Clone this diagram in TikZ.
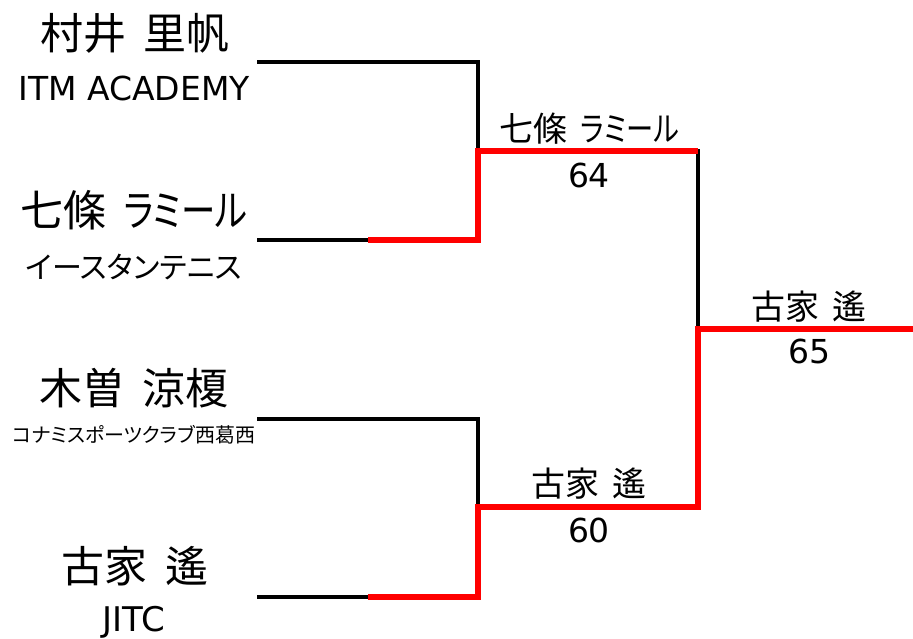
\documentclass[tikz,border=0pt]{standalone}
\usepackage{fontspec}
\setmainfont{DejaVu Sans}
\newfontfamily\jp[RawFeature=+palt,WordSpace=1.8]{Noto Sans CJK JP}
\newfontfamily\jpk[RawFeature=+palt,FakeStretch=0.8]{Noto Sans CJK JP}
\definecolor{winred}{RGB}{255,0,0}
\begin{document}
\begin{tikzpicture}[x=1pt,y=-1pt,
  lose/.style={line width=3.3pt,black,line cap=rect},
  win/.style={line width=6pt,winred,line cap=butt},
  txt/.style={inner sep=0pt,outer sep=0pt,anchor=center},
  bigname/.style={txt,font=\jp\fontsize{43}{43}\selectfont},
  rname/.style={txt,font=\jp\fontsize{34}{34}\selectfont},
  latin/.style={txt,font=\fontsize{33}{33}\selectfont},
  score/.style={txt,font=\fontsize{33}{33}\selectfont}]
\useasboundingbox (0,0) rectangle (913,638);
\fill[white] (0,0) rectangle (913,638);
% player labels
\node[bigname] (p1) at (135,33) {村井 里帆};
\node[latin] (c1) at (134,88) {ITM ACADEMY};
\node[bigname] (p2) at (134,210) {七條 {\jpk ラミール}};
\node[txt,font=\jp\fontsize{30}{30}\selectfont] (c2) at (134,267) {イースタンテニス};
\node[bigname] (p3) at (134,388) {木曽 涼榎};
\node[txt,font=\jp\fontsize{20}{20}\selectfont] (c3) at (134,435) {コナミスポーツクラブ西葛西};
\node[bigname] (p4) at (135,566) {古家 遙};
\node[latin,font=\fontsize{34}{34}\selectfont,anchor=base] (c4) at (134,631) {JITC};
% round labels
\node[rname] (w1) at (589,129) {七條 {\jpk ラミール}};
\node[score] (s1) at (589,175) {64};
\node[rname] (w2) at (589,484) {古家 遙};
\node[score] (s2) at (589,530) {60};
\node[rname] (w3) at (809,307) {古家 遙};
\node[score] (s3) at (809,351) {65};
% bracket points
\coordinate (a1) at (259,62);
\coordinate (a2) at (259,240);
\coordinate (a3) at (259,419);
\coordinate (a4) at (259,597);
\coordinate (m2) at (368,240);
\coordinate (m4) at (368,597);
\coordinate (j1) at (478,62);
\coordinate (j2) at (478,240);
\coordinate (j3) at (478,419);
\coordinate (j4) at (478,597);
\coordinate (k1) at (478,151);
\coordinate (k2) at (478,507);
\coordinate (q1) at (698,151);
\coordinate (q2) at (698,507);
\coordinate (f) at (698,329);
\coordinate (e) at (913,329);
% losers
\draw[lose] (a1) -- (j1) -- (k1);
\draw[lose] (a2) -- (m2);
\draw[lose] (a3) -- (j3) -- (k2);
\draw[lose] (a4) -- (m4);
\draw[lose] (q1) -- (f);
% winners
\draw[win] (m2) -- (j2) -- (k1) -- (q1);
\draw[win] (m4) -- (j4) -- (k2) -- (q2) -- (f) -- (e);
\end{tikzpicture}
\end{document}
